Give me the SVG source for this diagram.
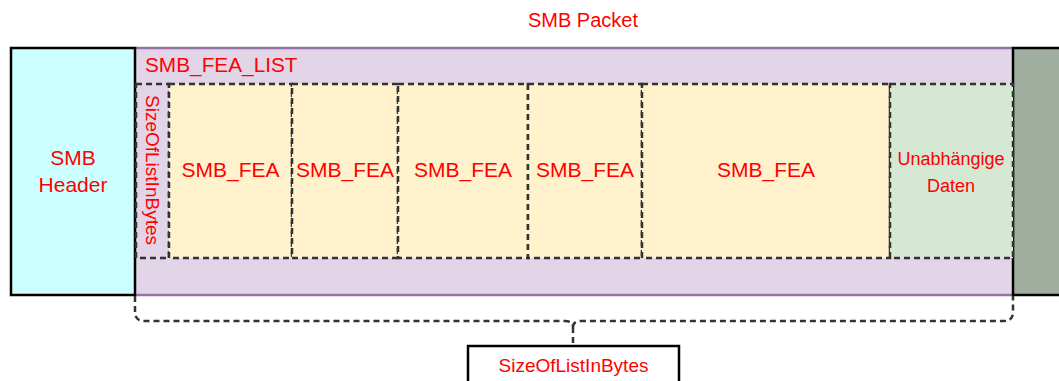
<svg xmlns="http://www.w3.org/2000/svg" width="1059" height="381" viewBox="0 0 1059 381">
<style>
text{font-family:"Liberation Sans",Arial,sans-serif;fill:#ff0000;text-anchor:middle}
.dash{fill:none;stroke:#333;stroke-width:2.5;stroke-dasharray:6 4}
.fea{fill:#fff2cc}
</style>
<rect width="1059" height="381" fill="#fff"/>
<text x="583" y="27" font-size="20">SMB Packet</text>
<g id="list">
<rect x="135" y="48" width="878" height="247" fill="#e1d5e7"/>
<line x1="135" y1="48" x2="1013" y2="48" stroke="#9673a6" stroke-width="2.5"/>
<line x1="135" y1="295" x2="1013" y2="295" stroke="#9673a6" stroke-width="2.5"/>
<text x="145" y="72" font-size="20.8" style="text-anchor:start">SMB_FEA_LIST</text>
</g>
<g id="header">
<rect x="11" y="48" width="124" height="247" fill="#ccffff" stroke="#000" stroke-width="2.5"/>
<text x="73" y="165" font-size="21">SMB</text>
<text x="73" y="192" font-size="21">Header</text>
</g>
<g id="trailer">
<rect x="1013" y="48" width="50" height="247" fill="#a0af9f" stroke="#000" stroke-width="2.5"/>
</g>
<g id="size">
<rect x="136" y="84" width="33" height="174" class="dash"/>
<text transform="translate(146,170) rotate(90)" font-size="19">SizeOfListInBytes</text>
</g>
<g id="fea1"><rect x="169" y="84" width="123" height="174" class="fea"/><rect x="169" y="84" width="123" height="174" class="dash"/><text x="230.5" y="177" font-size="21">SMB_FEA</text></g>
<g id="fea2"><rect x="292" y="84" width="106" height="174" class="fea"/><rect x="292" y="84" width="106" height="174" class="dash"/><text x="345" y="177" font-size="21">SMB_FEA</text></g>
<g id="fea3"><rect x="398" y="84" width="130" height="174" class="fea"/><rect x="398" y="84" width="130" height="174" class="dash"/><text x="463" y="177" font-size="21">SMB_FEA</text></g>
<g id="fea4"><rect x="528" y="84" width="114" height="174" class="fea"/><rect x="528" y="84" width="114" height="174" class="dash"/><text x="585" y="177" font-size="21">SMB_FEA</text></g>
<g id="fea5"><rect x="642" y="84" width="248" height="174" class="fea"/><rect x="642" y="84" width="248" height="174" class="dash"/><text x="766" y="177" font-size="21">SMB_FEA</text></g>
<g id="data"><rect x="890" y="84" width="123" height="174" fill="#d5e8d4"/><rect x="890" y="84" width="123" height="174" class="dash"/><text x="951" y="165" font-size="18">Unabhängige</text><text x="951" y="192" font-size="18">Daten</text></g>
<g id="connectors">
<path class="dash" d="M135 296 V312 Q135 321 144 321 H565 Q573 321 573 327 M573 327 Q573 321 581 321 H1004 Q1013 321 1013 312 V296 M573 327 V346"/>
</g>
<g id="sizebox">
<rect x="468" y="346" width="211" height="40" fill="#fff" stroke="#000" stroke-width="2.5"/>
<text x="573.5" y="372" font-size="19">SizeOfListInBytes</text>
</g>
</svg>
